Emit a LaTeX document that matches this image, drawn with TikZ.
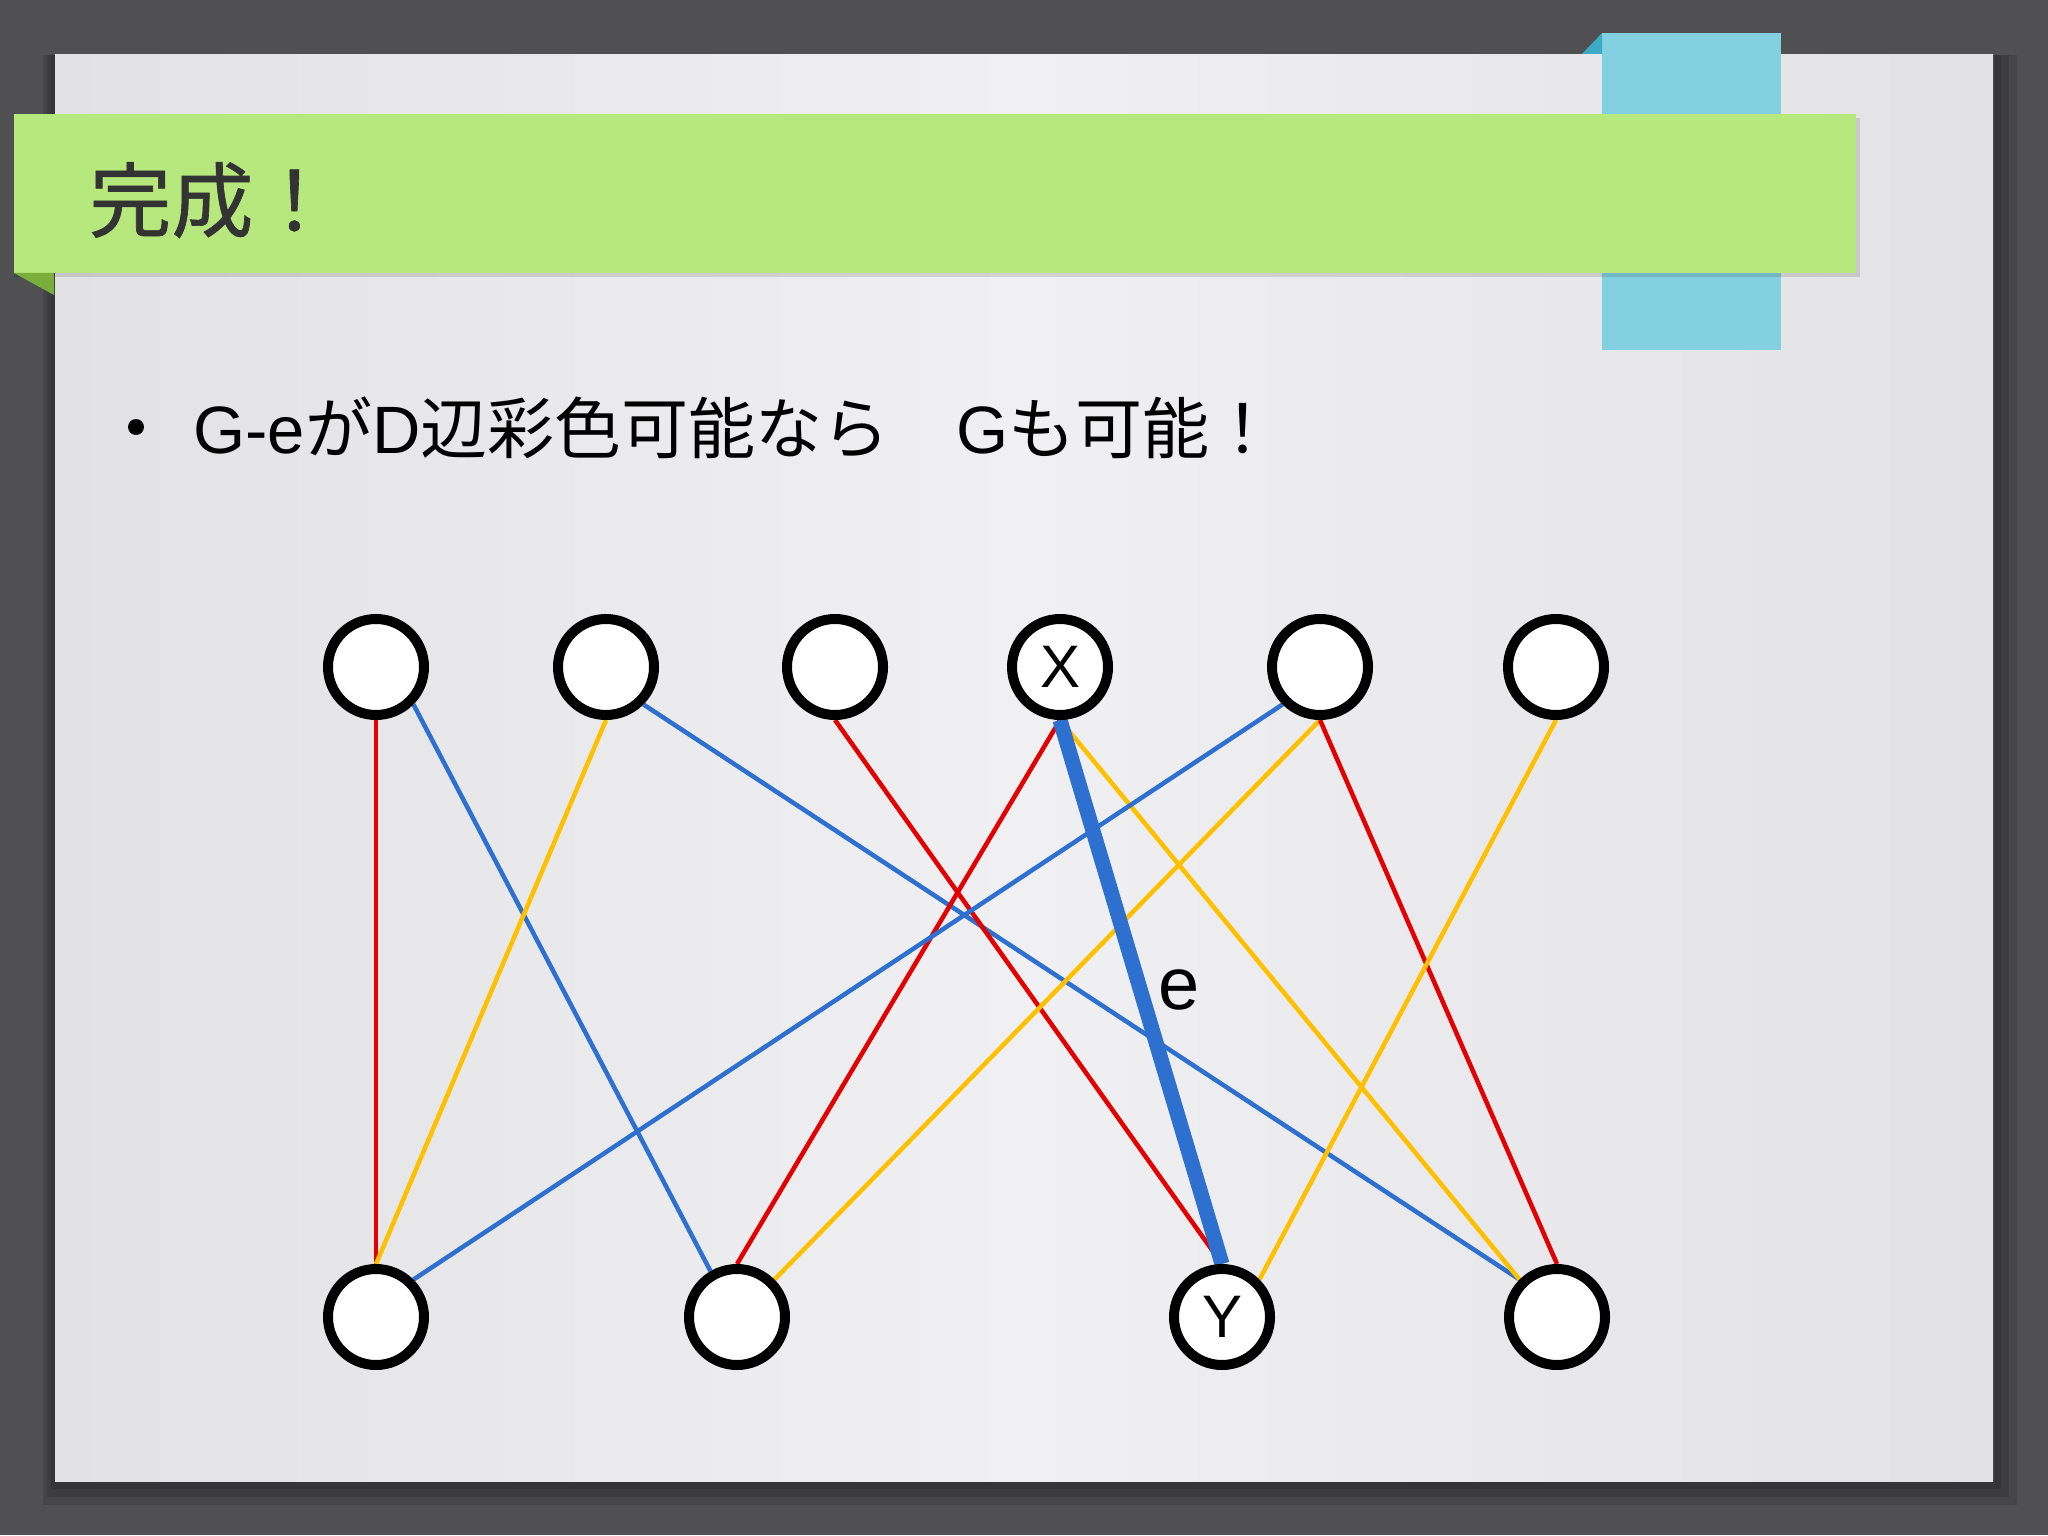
\documentclass[tikz,border=0pt]{standalone}
\usepackage{fontspec}
\setmainfont{Liberation Sans}
\newfontfamily\jpfont{Noto Sans CJK JP}
\newfontfamily\jptitle[FakeBold=0.8]{Noto Sans CJK JP}
\usetikzlibrary{positioning}
\pgfdeclarelayer{backdrop}
\pgfdeclarelayer{links}
\pgfsetlayers{backdrop,links,main}

\definecolor{deskgray}{RGB}{80,80,82}
\definecolor{paperside}{RGB}{226,226,228}
\definecolor{papermid}{RGB}{240,239,242}
\definecolor{bannergreen}{RGB}{183,232,125}
\definecolor{foldgreen}{RGB}{122,175,60}
\definecolor{tabblue}{RGB}{131,208,225}
\definecolor{foldblue}{RGB}{58,172,200}
\definecolor{cred}{RGB}{226,0,0}
\definecolor{cblue}{RGB}{45,112,208}
\definecolor{cyellow}{RGB}{255,192,0}
\definecolor{titlegray}{RGB}{51,51,51}

\newcommand{\ja}[1]{{\jpfont #1}}

\begin{document}
\begin{tikzpicture}[x=0.5pt,y=-0.5pt,
    vertex/.style={circle, draw=black, fill=white, line width=5pt,
      minimum size=48pt, inner sep=0pt, font=\fontsize{30}{30}\selectfont},
    link/.style={line width=2.25pt},
    redline/.style={link, cred},
    blueline/.style={link, cblue},
    yellowline/.style={link, cyellow}]

  % --- slide ------------------------
  \begin{pgfonlayer}{backdrop}
    \fill[deskgray] (0,0) rectangle (2048,1535);
    \foreach \s in {24,16,8}
      \fill[black,opacity=0.12] (55-\s/2,55) rectangle (1993+\s,1481+\s);
    \shade[left color=paperside, right color=paperside, middle color=papermid]
      (55,55) rectangle (1993,1481);
    \fill[tabblue] (1602,33) rectangle (1781,350);
    \fill[foldblue] (1582,54) -- (1602,33) -- (1602,54) -- cycle;
    \fill[black,opacity=0.12] (14,118) rectangle (1860,277);
    \fill[bannergreen] (14,114) rectangle (1856,273);
    \fill[foldgreen] (14,273) -- (54,273) -- (54,295) -- cycle;
  \end{pgfonlayer}

  \node (title) at (89,231) [anchor=base west, inner sep=0pt, text=titlegray,
    font=\jptitle\fontsize{41}{41}\selectfont] {完成！};

  \node (dot) at (136,427) [circle, fill=black, minimum size=8pt, inner sep=0pt] {};
  \node (lead) at (193,453) [anchor=base west, inner sep=0pt,
    font=\fontsize{33.5}{33.5}\selectfont]
        {G-e\ja{が}D\ja{辺彩色可能なら　}G\ja{も可能！}};

  % --- vertices ---------------------
  \node (t1) at (376,667)  [vertex] {};
  \node (t2) at (606,667)  [vertex] {};
  \node (t3) at (835,667)  [vertex] {};
  \node (x)  at (1060,667) [vertex] {X};
  \node (t5) at (1320,667) [vertex] {};
  \node (t6) at (1556,667) [vertex] {};

  \node (b1) at (376,1317)  [vertex] {};
  \node (b2) at (737,1317)  [vertex] {};
  \node (y)  at (1222,1317) [vertex] {Y};
  \node (b4) at (1557,1317) [vertex] {};

  % --- edges ------------------------
  \begin{pgfonlayer}{links}
    \draw[redline]    (t1.south) -- (b1.north);
    \draw[blueline]   (t1.south east) -- (b2.120);
    \draw[yellowline] (t2.south) -- (b1.north);
    \draw[blueline]   (t2.south east) -- (b4.north west);
    \draw[redline]    (t3.south) -- (y.north);
    \draw[redline]    (x.south) -- (b2.north);
    \draw[yellowline] (x.south) -- (b4.north west);
    \draw[blueline]   (t5.south west) -- (b1.north east);
    \draw[yellowline] (t5.south) -- (b2.north east);
    \draw[redline]    (t5.south) -- (b4.north);
    \draw[yellowline] (t6.south) -- (y.north east);
    \draw[blueline, line width=7.5pt] (x.south) -- (y.north);
  \end{pgfonlayer}

  \node (elabel) at (1179,990) [font=\fontsize{37}{37}\selectfont] {e};
\end{tikzpicture}
\end{document}
